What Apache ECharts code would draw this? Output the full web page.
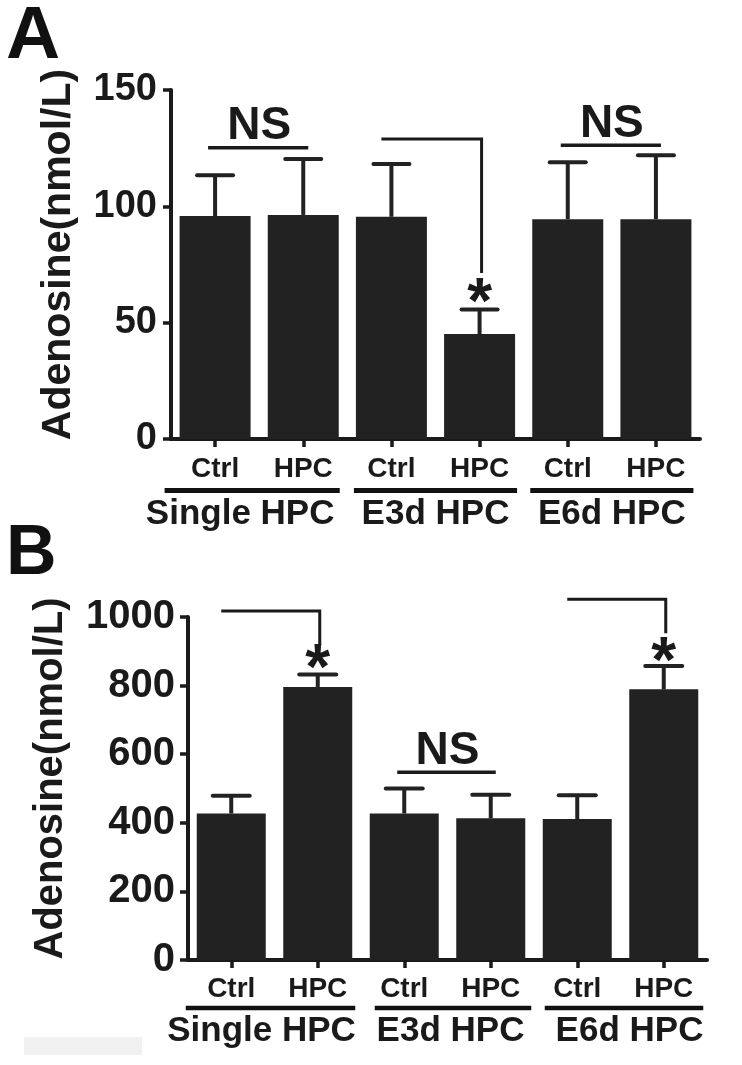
<!DOCTYPE html>
<html><head><meta charset="utf-8">
<script src="https://cdn.jsdelivr.net/npm/echarts@6/dist/echarts.min.js"></script>
<style>html,body{margin:0;padding:0;background:#fff}#c{width:742px;height:1065px}</style>
</head><body><div id="c"></div>
<script>
// ---------- data ----------
const categories = ['Ctrl', 'HPC', 'Ctrl', 'HPC', 'Ctrl', 'HPC'];
const groupNames = ['Single HPC', 'E3d HPC', 'E6d HPC'];
const yTicksA = [0, 50, 100, 150];
const yTicksB = [0, 200, 400, 600, 800, 1000];
const meanA = [95.8, 96.3, 95.5, 45.1, 94.5, 94.5];
const sdA = [17.6, 24.0, 22.7, 10.6, 24.4, 27.5];
const meanB = [427, 796, 427, 413, 411, 789];
const sdB = [52, 36, 73, 69, 69, 68];
// significance marks: [kind, fromIndex, toIndex, level, dropTo, starCenter]
const sigA = [
  ['NS', 0, 1, 125.2, null, null],
  ['*', 2, 3, 128.9, 71.3, 63.2],
  ['NS', 4, 5, 126.2, null, null]
];
const sigB = [
  ['*', 0, 1, 1017.5, 917.6, 880],
  ['NS', 2, 3, 547.6, null, null],
  ['*', 4, 5, 1051.6, 952.5, 900]
];

// ---------- styles ----------
const FONT = '"Liberation Sans", Arial, Helvetica, sans-serif';
const INK = '#1a1a1a';
const BAR = '#222222';

function errRender(capW) {
  return function (params, api) {
    const x = api.value(0);
    const lo = api.coord([x, api.value(1)]);
    const hi = api.coord([x, api.value(2)]);
    return {
      type: 'group',
      children: [
        { type: 'line', shape: { x1: lo[0], y1: lo[1], x2: hi[0], y2: hi[1] }, style: { stroke: BAR, lineWidth: 4 } },
        { type: 'line', shape: { x1: hi[0] - capW / 2, y1: hi[1], x2: hi[0] + capW / 2, y2: hi[1] }, style: { stroke: BAR, lineWidth: 4, lineCap: 'round' } }
      ]
    };
  };
}

function sigRender(list) {
  return function (params, api) {
    const s = list[params.dataIndex];
    const a = api.coord([s[1], s[3]]);
    const b = api.coord([s[2], s[3]]);
    const children = [];
    if (s[0] === 'NS') {
      children.push({ type: 'line', shape: { x1: a[0] - 7, y1: a[1], x2: b[0] + 5, y2: b[1] }, style: { stroke: INK, lineWidth: 3.5 } });
      children.push({ type: 'text', x: (a[0] + b[0]) / 2, y: a[1] - 21,
        style: { text: 'NS', font: 'bold 46px ' + FONT, fill: INK, align: 'center', verticalAlign: 'middle' } });
    } else {
      const d = api.coord([s[2], s[4]]);
      const st = api.coord([s[2], s[5]]);
      children.push({ type: 'polyline', shape: { points: [[a[0] - 10, a[1]], [b[0] + 2, b[1]], [d[0] + 2, d[1]]] },
        style: { stroke: INK, lineWidth: 3, fill: null } });
      children.push({ type: 'text', x: st[0], y: st[1] + 13,
        style: { text: '*', font: 'bold 64px ' + FONT, fill: INK, align: 'center', verticalAlign: 'middle' } });
    }
    return { type: 'group', children: children };
  };
}

function groupRender(opts) {
  return function (params, api) {
    const g = params.dataIndex;
    const p0 = api.coord([2 * g, 0]);
    const p1 = api.coord([2 * g + 1, 0]);
    const half = opts.barW / 2;
    const x0 = p0[0] - half - opts.ext[g][0];
    const x1 = p1[0] + half + opts.ext[g][1];
    const cx = (p0[0] + p1[0]) / 2 + opts.shift[g];
    return {
      type: 'group',
      children: [
        { type: 'line', shape: { x1: x0, y1: p0[1] + opts.lineOff, x2: x1, y2: p0[1] + opts.lineOff },
          style: { stroke: '#111', lineWidth: opts.lineW } },
        { type: 'text', x: cx, y: p0[1] + opts.textOff,
          style: { text: groupNames[g], font: 'bold ' + opts.fs + 'px ' + FONT, fill: INK, align: 'center', verticalAlign: 'middle' } }
      ]
    };
  };
}

const chart = echarts.init(document.getElementById('c'), null, { renderer: 'canvas' });

function xAxisDef(gridIndex, margin) {
  return {
    type: 'category', gridIndex: gridIndex, data: categories,
    axisLine: { lineStyle: { color: INK, width: 4 } },
    axisTick: { show: true, alignWithLabel: true, length: 8, lineStyle: { color: INK, width: 3.5 } },
    axisLabel: { color: INK, fontFamily: FONT, fontWeight: 'bold', fontSize: 28, margin: margin, verticalAlign: 'middle', interval: 0 },
    splitLine: { show: false }
  };
}
function yAxisDef(gridIndex, ticks, fs, nameFs, nameGap, margin) {
  return {
    type: 'value', gridIndex: gridIndex, min: ticks[0], max: ticks[ticks.length - 1],
    interval: ticks[1] - ticks[0],
    name: 'Adenosine(nmol/L)', nameLocation: 'middle', nameRotate: 90, nameGap: nameGap,
    nameTextStyle: { color: INK, fontFamily: FONT, fontWeight: 'bold', fontSize: nameFs, padding: [0, 0, 0, 20] },
    axisLine: { show: true, lineStyle: { color: INK, width: 4 } },
    axisTick: { show: true, length: 8, lineStyle: { color: INK, width: 3.5 } },
    axisLabel: { color: INK, fontFamily: FONT, fontWeight: 'bold', fontSize: fs, margin: margin,
      formatter: function (v) { return String(v); } },
    splitLine: { show: false }
  };
}

chart.setOption({
  animation: false,
  backgroundColor: '#ffffff',
  grid: [
    { left: 171, top: 90, width: 529, height: 349 },
    { left: 188, top: 617, width: 519, height: 343 }
  ],
  xAxis: [xAxisDef(0, 30), xAxisDef(1, 29)],
  yAxis: [yAxisDef(0, yTicksA, 38, 41, 92, 14), yAxisDef(1, yTicksB, 40, 40, 117, 13)],
  graphic: [
    { type: 'rect', left: 24, top: 1037, shape: { width: 118, height: 18 }, style: { fill: '#f1f1f1' }, silent: true },
    { type: 'text', left: 6, top: 0, style: { text: 'A', font: 'bold 75px ' + FONT, fill: '#111' } },
    { type: 'text', left: 6, top: 520, style: { text: 'B', font: 'bold 70px ' + FONT, fill: '#111' } }
  ],
  series: [
    { type: 'bar', xAxisIndex: 0, yAxisIndex: 0, data: meanA, barWidth: 71, itemStyle: { color: BAR } },
    { type: 'custom', xAxisIndex: 0, yAxisIndex: 0, renderItem: errRender(36), clip: false,
      data: meanA.map((m, i) => [i, m, m + sdA[i]]), encode: { x: 0, y: [1, 2] }, z: 3 },
    { type: 'custom', xAxisIndex: 0, yAxisIndex: 0, renderItem: sigRender(sigA), clip: false,
      data: sigA.map((s, i) => [i, s[3]]), encode: { x: 0, y: 1 }, z: 4 },
    { type: 'custom', xAxisIndex: 0, yAxisIndex: 0, clip: false,
      renderItem: groupRender({ barW: 71, ext: [[15, 1], [2, 2], [2, 2]], shift: [-19, 0, 0], lineOff: 51.5, lineW: 5, textOff: 75, fs: 35 }),
      data: groupNames.map((n, i) => [2 * i, 0]), encode: { x: 0, y: 1 }, z: 4 },

    { type: 'bar', xAxisIndex: 1, yAxisIndex: 1, data: meanB, barWidth: 69, itemStyle: { color: BAR } },
    { type: 'custom', xAxisIndex: 1, yAxisIndex: 1, renderItem: errRender(37), clip: false,
      data: meanB.map((m, i) => [i, m, m + sdB[i]]), encode: { x: 0, y: [1, 2] }, z: 3 },
    { type: 'custom', xAxisIndex: 1, yAxisIndex: 1, renderItem: sigRender(sigB), clip: false,
      data: sigB.map((s, i) => [i, s[3]]), encode: { x: 0, y: 1 }, z: 4 },
    { type: 'custom', xAxisIndex: 1, yAxisIndex: 1, clip: false,
      renderItem: groupRender({ barW: 69, ext: [[11, 3], [-5, 6], [-2, 5]], shift: [-13, 3, 9], lineOff: 48, lineW: 4.5, textOff: 71, fs: 35 }),
      data: groupNames.map((n, i) => [2 * i, 0]), encode: { x: 0, y: 1 }, z: 4 }
  ]
});
</script>
</body></html>
